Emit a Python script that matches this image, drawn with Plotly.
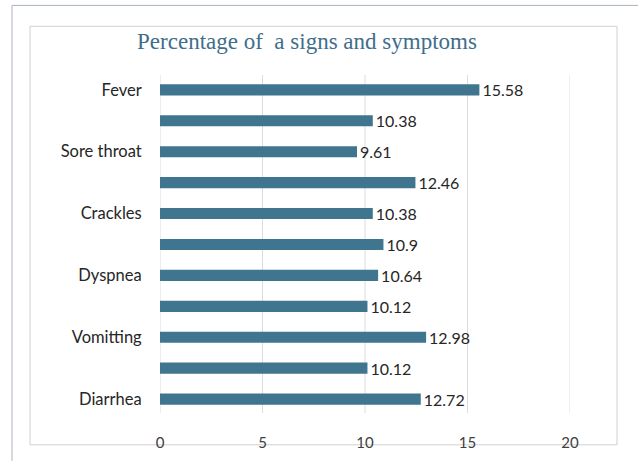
import plotly.graph_objects as go

# Data (top to bottom)
labels = ["Fever", "", "Sore throat", "", "Crackles", "", "Dyspnea", "", "Vomitting", "", "Diarrhea"]
values = [15.58, 10.38, 9.61, 12.46, 10.38, 10.9, 10.64, 10.12, 12.98, 10.12, 12.72]
x_ticks = [0, 5, 10, 15, 20]

n = len(values)
positions = [n - 1 - i for i in range(n)]  # Fever on top

W, H = 638, 463
L, R, T, B = 160, 570, 75, 415


def px(x):
    return (x - L) / (R - L)


def py(y):
    return (B - y) / (B - T)


fig = go.Figure()
fig.add_trace(go.Bar(
    x=values, y=positions, orientation="h",
    width=0.36,
    marker=dict(color="#40758F", line=dict(width=0)),
    text=[f"{v:g}" for v in values], textposition="outside",
    constraintext="none",
    textfont=dict(family="Lato, Open Sans, sans-serif", size=16, color="#262626"),
    cliponaxis=False,
    hoverinfo="skip",
))

shapes = [
    # outer frame lines (top and left)
    dict(type="line", xref="paper", yref="paper", x0=px(12), x1=px(638), y0=py(5), y1=py(5),
         line=dict(color="#A8B4BE", width=1)),
    dict(type="line", xref="paper", yref="paper", x0=px(12), x1=px(12), y0=py(5), y1=py(463),
         line=dict(color="#A8B4BE", width=1)),
    # inner chart border
    dict(type="rect", xref="paper", yref="paper", x0=px(30), x1=px(617), y0=py(26), y1=py(447),
         line=dict(color="#D0D0D0", width=1), fillcolor="rgba(0,0,0,0)", layer="below"),
]
# vertical gridlines at each tick value
for t in x_ticks:
    shapes.append(dict(type="line", xref="x", yref="paper", x0=t, x1=t, y0=0, y1=1,
                       line=dict(color="#DCDCDC", width=1), layer="below"))

fig.update_layout(
    width=W, height=H,
    margin=dict(l=L, r=W - R, t=T, b=H - B),
    paper_bgcolor="white", plot_bgcolor="white",
    showlegend=False,
    shapes=shapes,
    title=dict(text="Percentage of  a signs and symptoms", xref="paper", x=px(307), xanchor="center",
               yref="container", y=1 - 41 / H, yanchor="middle",
               font=dict(family="Liberation Serif, serif", size=23, color="#3E6E8A")),
    xaxis=dict(range=[0, 20], tickvals=x_ticks, showgrid=False,
               zeroline=False, showline=False, ticks="outside", ticklen=16, tickcolor="rgba(0,0,0,0)",
               tickfont=dict(family="Lato, Open Sans, sans-serif", size=15, color="#404040"),
               fixedrange=True),
    yaxis=dict(range=[-0.45, n - 1 + 0.48], tickvals=positions, ticktext=labels, showgrid=False,
               zeroline=False, showline=False, ticks="outside", ticklen=14, tickcolor="rgba(0,0,0,0)",
               tickfont=dict(family="Lato, Open Sans, sans-serif", size=16.5, color="#262626"),
               fixedrange=True),
)

fig.write_html("out.html", config={"displayModeBar": False},
               post_script="document.body.style.margin='0';")
